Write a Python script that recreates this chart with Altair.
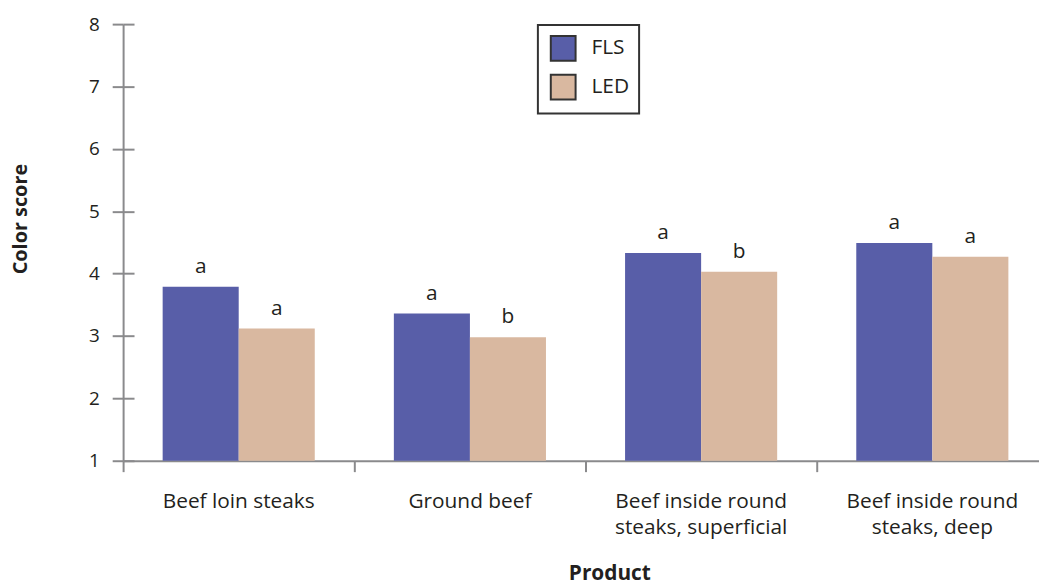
import altair as alt
import pandas as pd

products = [
    "Beef loin steaks",
    "Ground beef",
    "Beef inside round\nsteaks, superficial",
    "Beef inside round\nsteaks, deep",
]
fls_scores = [3.79, 3.36, 4.33, 4.49]
led_scores = [3.12, 2.98, 4.03, 4.27]
fls_letters = ["a", "a", "a", "a"]
led_letters = ["a", "b", "b", "a"]
lights = ["FLS", "LED"]
colors = ["#585EA8", "#D9B8A0"]

rows = []
for i, p in enumerate(products):
    rows.append({"product": p, "light": "FLS", "score": fls_scores[i], "letter": fls_letters[i]})
    rows.append({"product": p, "light": "LED", "score": led_scores[i], "letter": led_letters[i]})
df = pd.DataFrame(rows)

FONT = "Open Sans"
AXIS_GRAY = "#8a8a8c"
TEXT = "#231f20"

yscale = alt.Scale(domain=[1, 8], nice=False, zero=False)
xscale = alt.Scale(domain=products, paddingInner=0, paddingOuter=0, range=[0, 932])
xoff = alt.XOffset("light:N", scale=alt.Scale(domain=lights, paddingInner=0, paddingOuter=0.52))

# labels + title (no ticks, no domain line)
x_labels = alt.X(
    "product:N",
    scale=xscale,
    sort=products,
    axis=alt.Axis(
        orient="bottom",
        title="Product",
        ticks=False,
        domain=False,
        labelAngle=0,
        labelFont=FONT,
        labelFontSize=21,
        labelColor=TEXT,
        labelPadding=30,
        labelLineHeight=26,
        labelExpr="split(datum.label, '\\n')",
        titleFont=FONT,
        titleFontSize=21,
        titleFontWeight="bold",
        titleColor=TEXT,
        titleX=490,
        titleY=120,
        titleBaseline="alphabetic",
        titleAlign="center",
    ),
)

# ticks at the left edge of every band
x_ticks = alt.X(
    "product:N",
    scale=xscale,
    sort=products,
    axis=alt.Axis(
        orient="bottom",
        values=products,
        bandPosition=0,
        tickSize=11,
        tickWidth=2,
        tickColor=AXIS_GRAY,
        domain=False,
        labels=False,
        grid=False,
        title=None,
    ),
)

bars = alt.Chart(df).mark_bar().encode(
    x=x_labels,
    xOffset=xoff,
    y=alt.Y(
        "score:Q",
        scale=yscale,
        axis=alt.Axis(
            orient="left",
            values=list(range(1, 9)),
            title="Color score",
            grid=True,
            gridColor=alt.condition("datum.value == 1", alt.value(AXIS_GRAY), alt.value("transparent")),
            gridWidth=2,
            tickSize=11,
            tickWidth=2,
            tickColor=AXIS_GRAY,
            domainColor=AXIS_GRAY,
            domainWidth=2,
            labelFont=FONT,
            labelFontSize=19,
            labelColor=TEXT,
            labelPadding=13,
            titleFont=FONT,
            titleFontSize=20,
            titleFontWeight="bold",
            titleColor=TEXT,
            titleX=-97,
            titleY=196,
            titleBaseline="alphabetic",
            titleAlign="center",
        ),
    ),
    y2=alt.datum(1),
    color=alt.Color(
        "light:N",
        scale=alt.Scale(domain=lights, range=colors),
        legend=alt.Legend(
            title=None,
            orient="none",
            legendX=418,
            legendY=1,
            fillColor="white",
            strokeColor="#333333",
            padding=10,
            symbolType="square",
            symbolSize=625,
            symbolOffset=2,
            symbolStrokeColor="#333333",
            symbolStrokeWidth=2,
            symbolOpacity=1,
            labelFont=FONT,
            labelFontSize=21,
            labelColor=TEXT,
            labelOffset=15,
            rowPadding=6,
        ),
    ),
)

letters = alt.Chart(df).mark_text(
    font=FONT, fontSize=21, color=TEXT, baseline="alphabetic", dy=-14
).encode(
    x=x_ticks,
    xOffset=xoff,
    y=alt.Y(
        "score:Q",
        scale=yscale,
        axis=alt.Axis(
            orient="left",
            offset=-11,
            values=list(range(1, 9)),
            tickSize=11,
            tickWidth=2,
            tickColor=AXIS_GRAY,
            domain=False,
            labels=False,
            grid=False,
            title=None,
        ),
    ),
    text="letter:N",
)

chart = (
    alt.layer(bars, letters)
    .resolve_axis(x="independent", y="independent")
    .properties(
        width=923,
        height=440,
        autosize=alt.AutoSizeParams(type="none"),
        padding={"left": 116, "top": 14, "right": 0, "bottom": 124},
        background="white",
    )
    .configure_view(stroke=None)
    .configure_legend(strokeWidth=2)
)

chart.save("out.html", embed_options={"renderer": "svg", "actions": False})
